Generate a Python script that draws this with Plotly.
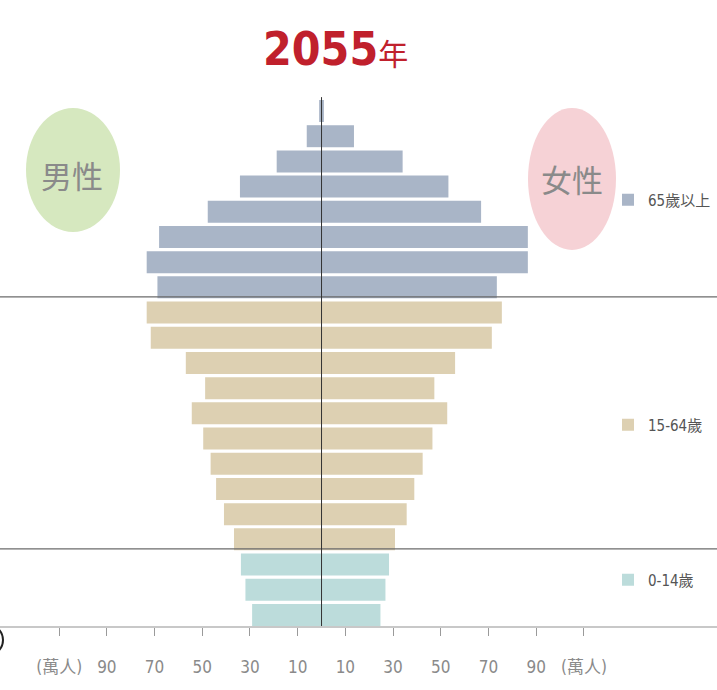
import plotly.graph_objects as go

# ---- data (bottom-up age order) ----
age_labels = ["0-4", "5-9", "10-14", "15-19", "20-24", "25-29", "30-34", "35-39",
              "40-44", "45-49", "50-54", "55-59", "60-64", "65-69", "70-74",
              "75-79", "80-84", "85-89", "90-94", "95-99", "100+"]
male = [29.1, 31.9, 33.8, 36.7, 40.9, 44.2, 46.5, 49.6, 54.4, 48.8, 56.9,
        71.6, 73.3, 68.8, 73.3, 68.1, 47.7, 34.2, 18.8, 6.2, 1.0]
female = [24.7, 26.8, 28.3, 30.8, 35.7, 38.9, 42.4, 46.5, 52.7, 47.3, 56.0,
          71.4, 75.6, 73.5, 86.5, 86.5, 66.9, 53.2, 34.0, 13.6, 1.0]
groups = [("0-14歲", 0, 3, "#bcdcdb", "legend3"),
          ("15-64歲", 3, 13, "#ddd0b2", "legend2"),
          ("65歲以上", 13, 21, "#a9b5c7", "legend")]
tick_vals = [-110, -90, -70, -50, -30, -10, 10, 30, 50, 70, 90, 110]
tick_text = ["(萬人)", "90", "70", "50", "30", "10", "10", "30", "50", "70", "90", "(萬人)"]
title_year = "2055"

W, H = 717, 690
T, B = 90, 64
PH = H - T - B


def px(x):
    return x / W


def py(y):
    return (H - B - y) / PH


NARROW = "Liberation Sans Narrow, DejaVu Sans Condensed, Roboto, Noto Sans CJK TC, sans-serif"
CJK = "Noto Sans CJK TC, sans-serif"

fig = go.Figure()
for name, a, b, color, leg in groups:
    ys = age_labels[a:b]
    fig.add_trace(go.Bar(y=ys, x=[-v for v in male[a:b]], orientation="h",
                         marker=dict(color=color, line=dict(width=0)), width=0.873,
                         name=name, showlegend=False, legend=leg,
                         customdata=male[a:b],
                         hovertemplate="男性 %{y}: %{customdata}萬人<extra></extra>"))
    fig.add_trace(go.Bar(y=ys, x=female[a:b], orientation="h",
                         marker=dict(color=color, line=dict(width=0)), width=0.873,
                         name=name, showlegend=True, legend=leg,
                         hovertemplate="女性 %{y}: %{x}萬人<extra></extra>"))

shapes = [
    dict(type="line", xref="paper", yref="y", x0=0, x1=1, y0=12.62, y1=12.62,
         line=dict(color="#6b6b6b", width=1.2)),
    dict(type="line", xref="paper", yref="y", x0=0, x1=1, y0=2.62, y1=2.62,
         line=dict(color="#6b6b6b", width=1.2)),
    dict(type="line", xref="x", yref="y", x0=0, x1=0, y0=-0.44, y1=20.55,
         line=dict(color="#333333", width=1)),
    dict(type="circle", xref="paper", yref="paper", layer="below",
         x0=px(26), x1=px(120), y0=py(232), y1=py(108),
         fillcolor="#d6e8bf", line=dict(width=0)),
    dict(type="circle", xref="paper", yref="paper", layer="below",
         x0=px(528), x1=px(616), y0=py(250), y1=py(108),
         fillcolor="#f6d2d6", line=dict(width=0)),
    dict(type="circle", xref="paper", yref="paper",
         x0=px(-40), x1=px(3), y0=py(658), y1=py(622),
         line=dict(color="#222222", width=2)),
]

annotations = [
    dict(text=f"<b>{title_year}</b><span style='font-size:30px'>年</span>",
         xref="paper", yref="paper", x=px(335), y=py(49), showarrow=False,
         xanchor="center", yanchor="middle",
         font=dict(family=NARROW, size=46, color="#c0202c")),
    dict(text="男性", xref="paper", yref="paper", x=px(72), y=py(174), showarrow=False,
         xanchor="center", yanchor="middle",
         font=dict(family=CJK, size=31, color="#8a8a8a")),
    dict(text="女性", xref="paper", yref="paper", x=px(572), y=py(178), showarrow=False,
         xanchor="center", yanchor="middle",
         font=dict(family=CJK, size=31, color="#8a8a8a")),
]

leg_common = dict(font=dict(family=NARROW, size=15, color="#555555"),
                  bgcolor="rgba(0,0,0,0)", xanchor="left", yanchor="middle",
                  itemclick=False, itemdoubleclick=False)

fig.update_layout(
    width=W, height=H,
    margin=dict(l=0, r=0, t=T, b=B, autoexpand=False),
    paper_bgcolor="white", plot_bgcolor="white",
    barmode="overlay",
    shapes=shapes, annotations=annotations,
    legend=dict(x=px(608), y=py(200), **leg_common),
    legend2=dict(x=px(608), y=py(425), **leg_common),
    legend3=dict(x=px(608), y=py(580), **leg_common),
    xaxis=dict(range=[-134.8, 165.8], tickvals=tick_vals, ticktext=tick_text,
               showgrid=False, zeroline=False, showline=True, linecolor="#c8c8c8",
               linewidth=1.5, ticks="outside", ticklen=8, tickcolor="#9a9a9a",
               tickangle=0, automargin=False,
               tickfont=dict(family=NARROW, size=17, color="#8a8a8a"),
               ticklabelstandoff=17, fixedrange=True),
    yaxis=dict(type="category", categoryorder="array", categoryarray=age_labels,
               range=[-0.44, 20.833], visible=False, fixedrange=True,
               automargin=False),
)

fig.write_html("out.html", config={"displayModeBar": False},
               post_script="document.body.style.margin='0';document.body.style.overflow='hidden';")
